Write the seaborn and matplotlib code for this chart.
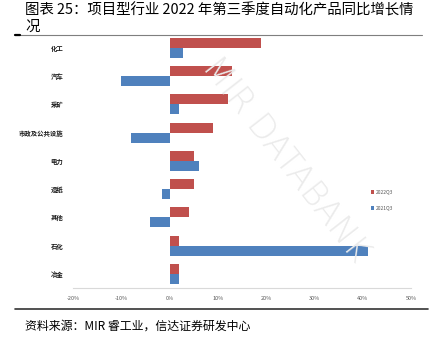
import numpy as np
import pandas as pd
import matplotlib
matplotlib.use("Agg")
import matplotlib.pyplot as plt
import seaborn as sns
from matplotlib.lines import Line2D
from matplotlib.patches import Patch

categories = ["化工", "汽车", "采矿", "市政及公共设施", "电力", "造纸", "其他", "石化", "冶金"]
series_names = ["2022Q3", "2021Q3"]
values_2022q3 = [19, 13, 12, 9, 5, 5, 4, 2, 2]
values_2021q3 = [2.8, -10, 2, -8, 6, -1.6, -4, 41, 2]
x_ticks = [-20, -10, 0, 10, 20, 30, 40, 50]
colors = ["#C0504D", "#4F81BD"]

sns.set_theme(style="white")
plt.rcParams["font.family"] = ["Noto Sans CJK SC", "DejaVu Sans"]

df = pd.DataFrame({
    "行业": categories * 2,
    "系列": [series_names[0]] * len(categories) + [series_names[1]] * len(categories),
    "值": values_2022q3 + values_2021q3,
})

fig = plt.figure(figsize=(4.44, 3.47), dpi=100)
W, H = 444, 347
ax = fig.add_axes([73 / W, 1 - 288 / H, (411 - 73) / W, (288 - 33.7) / H])

sns.barplot(data=df, y="行业", x="值", hue="系列", hue_order=series_names,
            order=categories, palette=colors, width=0.71, orient="h",
            saturation=1, ax=ax, legend=False, edgecolor="none")

ax.set_xlim(-20, 50)
ax.set_ylim(len(categories) - 0.5, -0.5)
ax.set_xticks(x_ticks)
ax.set_xticklabels([f"{t}%" for t in x_ticks], fontsize=4, color="#595959")
ax.tick_params(axis="y", labelsize=4.6, colors="#1a1a1a", pad=7, length=0)
for lbl in ax.get_yticklabels():
    lbl.set_fontweight("bold")
ax.tick_params(axis="x", pad=6, length=0)
ax.set_xlabel("")
ax.set_ylabel("")
for s in ["top", "right", "left"]:
    ax.spines[s].set_visible(False)
ax.spines["bottom"].set_color("#d9d9d9")
ax.spines["bottom"].set_linewidth(0.8)
ax.grid(False)

handles = [Patch(facecolor=c, edgecolor="none") for c in colors]
ax.legend(handles, series_names, loc="center left",
          bbox_to_anchor=((366 - 73) / (411 - 73), (288 - 200) / (288 - 33.7)),
          frameon=False, fontsize=3.6, handlelength=0.6, handleheight=0.8,
          handletextpad=0.4, labelspacing=2.2, labelcolor="#595959")

# watermark
fig.text(285 / W, 1 - 160 / H, "MIR DATABANK", rotation=-52, fontsize=24,
         color="#ebebeb", ha="center", va="center", family="DejaVu Sans",
         zorder=0, fontweight="light")

# title
fig.text(25 / W, 1 - 10 / H, "图表 25：项目型行业 2022 年第三季度自动化产品同比增长情",
         fontsize=10.4, ha="left", va="center", color="#000000", fontweight="medium")
fig.text(25 / W, 1 - 27 / H, "况", fontsize=10.4, ha="left", va="center",
         color="#000000", fontweight="medium")
fig.add_artist(Line2D([15 / W, 422 / W], [1 - 35 / H, 1 - 35 / H],
                      color="#7f7f7f", lw=0.8, transform=fig.transFigure))
fig.add_artist(Line2D([15 / W, 20 / W], [1 - 35 / H, 1 - 35 / H],
                      color="#000000", lw=1.6, transform=fig.transFigure))
fig.add_artist(Line2D([15 / W, 428 / W], [1 - 309 / H, 1 - 309 / H],
                      color="#333333", lw=1.2, transform=fig.transFigure))

# source
fig.text(25 / W, 1 - 326 / H, "资料来源：MIR 睿工业，信达证券研发中心",
         fontsize=8.6, ha="left", va="center", color="#000000")

fig.savefig("out.png", dpi=100)
